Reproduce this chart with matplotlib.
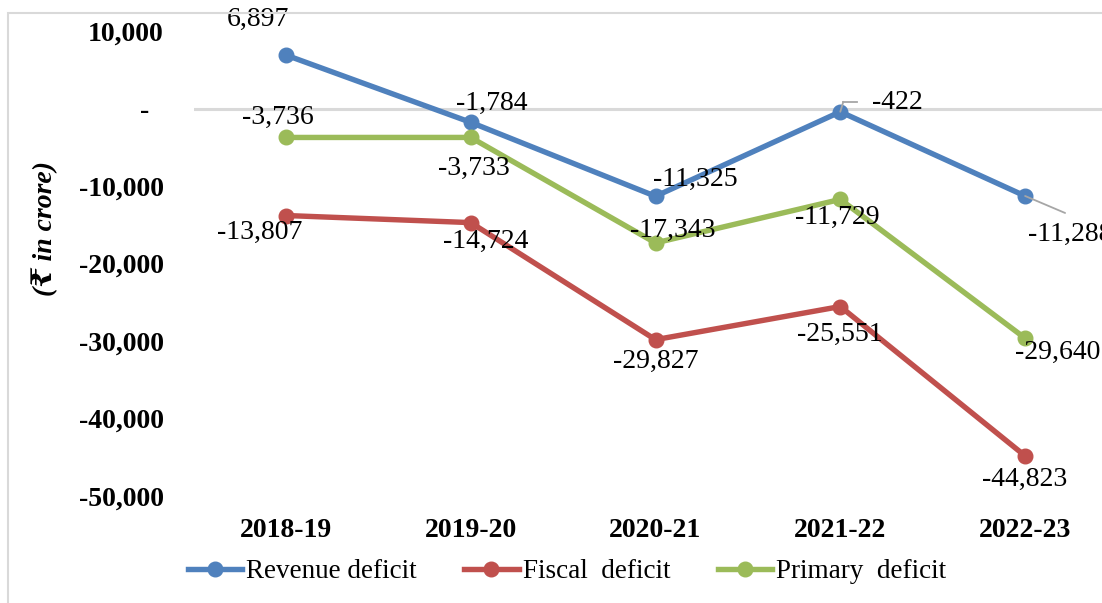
import matplotlib
matplotlib.use("Agg")
import matplotlib.pyplot as plt
from matplotlib.patches import Rectangle

years = ["2018-19", "2019-20", "2020-21", "2021-22", "2022-23"]
revenue_deficit = [6897, -1784, -11325, -422, -11288]
fiscal_deficit = [-13807, -14724, -29827, -25551, -44823]
primary_deficit = [-3736, -3733, -17343, -11729, -29640]
series_names = ["Revenue deficit", "Fiscal  deficit", "Primary  deficit"]
yticks = [10000, 0, -10000, -20000, -30000, -40000, -50000]

colors = ["#4F81BD", "#C0504D", "#9BBB59"]
serif = ["Liberation Serif", "DejaVu Serif", "DejaVu Sans"]
plt.rcParams["font.family"] = serif

fig = plt.figure(figsize=(11.02, 6.03), dpi=100)
W, H = 1102, 603
# border
fig.patches.append(Rectangle((8 / W, -0.1), 1.2, 1 - 13 / H + 0.1, transform=fig.transFigure,
                             fill=False, edgecolor="#D9D9D9", linewidth=1.5))
ax = fig.add_axes([193.5 / W, 1 - 496 / H, 924 / W, 465 / H])
ax.set_xlim(-0.5, 4.5)
ax.set_ylim(-50000, 10000)
for s in ax.spines.values():
    s.set_visible(False)
ax.axhline(0, color="#D9D9D9", linewidth=2.2, zorder=1)

x = list(range(len(years)))
all_series = [revenue_deficit, fiscal_deficit, primary_deficit]
for vals, c, name in zip(all_series, colors, series_names):
    ax.plot(x, vals, color=c, linewidth=3.9, marker="o", markersize=10.5, label=name, zorder=3)

# label offsets in pixels (dx, dy)
offsets = [
    [(-28, 36), (21, 19), (40, 17), (57, 9), (45, -38)],
    [(-26, -17), (15, -19), (0, -22), (0, -28), (0, -24)],
    [(-8, 20), (3, -31), (17, 13), (-3, -18), (33, -14)],
]
for vals, offs in zip(all_series, offsets):
    for xi, v, (dx, dy) in zip(x, vals, offs):
        ax.annotate(f"{v:,}", xy=(xi, v), xytext=(dx, dy), textcoords="offset pixels",
                    ha="center", va="center", fontsize=20, family=serif, zorder=4)

# leader lines
lc = "#A6A6A6"
ax.annotate("", xy=(3, revenue_deficit[3]), xytext=(3, 10), textcoords="offset pixels",
            arrowprops=dict(arrowstyle="-", color=lc, lw=1.3, shrinkA=0, shrinkB=0))
p = ax.transData.transform((3, revenue_deficit[3]))
ax.plot([p[0] + 3, p[0] + 17], [p[1] + 10, p[1] + 10], transform=None, color=lc, lw=1.3, zorder=2)
ax.annotate("", xy=(4, revenue_deficit[4]), xytext=(40, -17), textcoords="offset pixels",
            arrowprops=dict(arrowstyle="-", color=lc, lw=1.3, shrinkA=0, shrinkB=0))

ax.set_yticks(yticks)
ax.set_yticklabels(["-  " if v == 0 else f"{v:,}" for v in yticks],
                   fontsize=20, fontweight="bold")
ax.set_xticks(x)
ax.set_xticklabels(years, fontsize=20, fontweight="bold")
ax.tick_params(axis="y", length=0, pad=21.5)
ax.tick_params(axis="x", length=0, pad=16)

ax.set_ylabel("(₹ in crore)", fontsize=20, fontweight="bold", fontstyle="italic")
ax.yaxis.set_label_coords(-0.147, 0.576)

leg = fig.legend(loc="center", bbox_to_anchor=(567 / W, 1 - 572 / H), ncol=3, frameon=False,
                 fontsize=19.5, handlelength=2.0, handletextpad=0.15, columnspacing=1.75)

fig.savefig("out.png", dpi=100)
